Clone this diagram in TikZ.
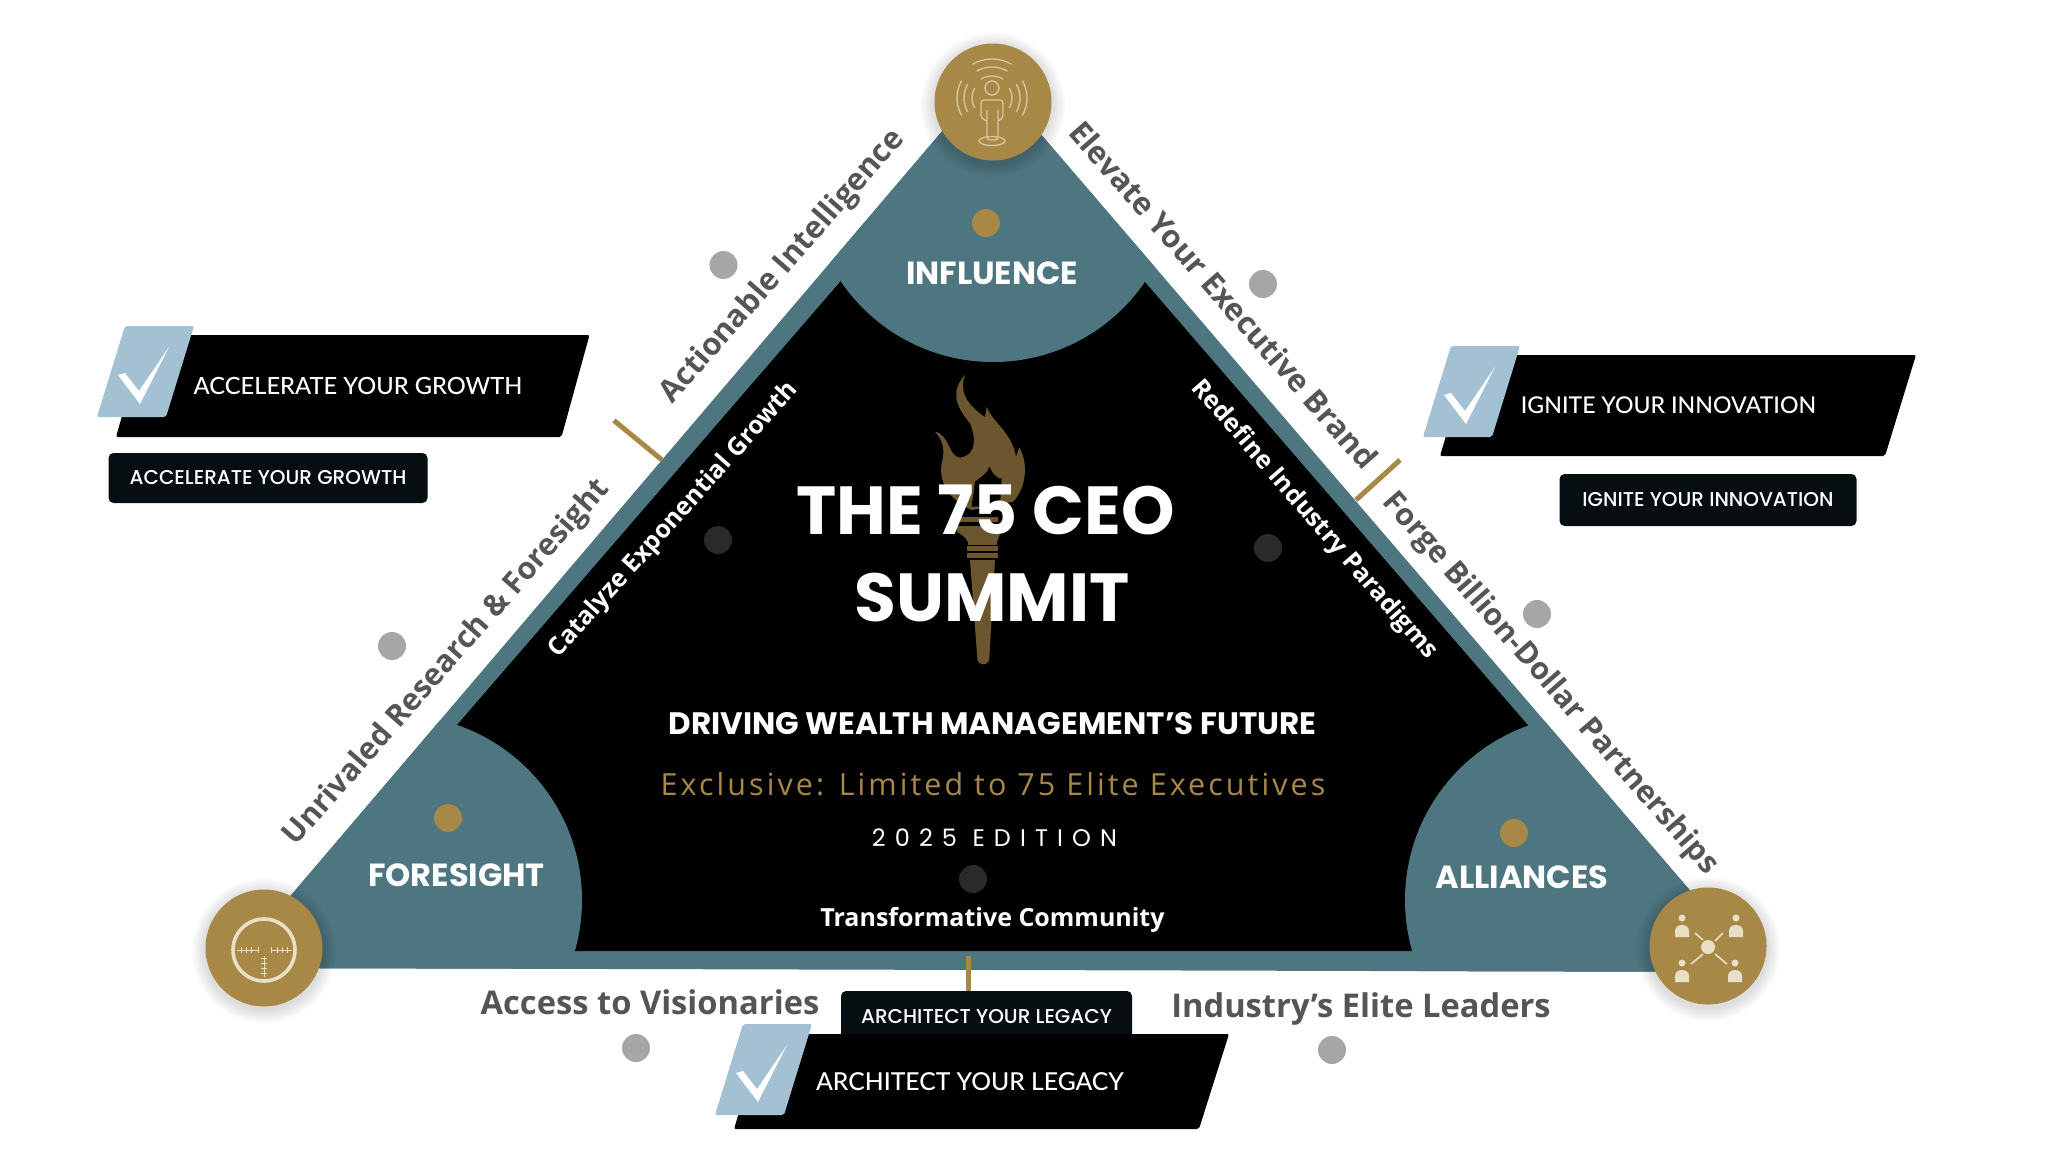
\documentclass[tikz,border=0pt]{standalone}
\usepackage{fontspec}
\setmainfont{Open Sans}
\newfontfamily\popfont{Poppins}
\newfontfamily\popmedium{Poppins Medium}
\newfontfamily\latofont{Lato Medium}
\newfontfamily\wideopen[LetterSpace=10]{Open Sans}
\newfontfamily\widepop[LetterSpace=38]{Poppins}
\usetikzlibrary{positioning}
\definecolor{tealfill}{HTML}{4E7680}
\definecolor{goldfill}{HTML}{A88847}
\definecolor{torchfill}{HTML}{6B5630}
\definecolor{paleblue}{HTML}{A3C1D2}
\definecolor{inkbox}{HTML}{070E11}
\definecolor{slatetext}{HTML}{555555}
\definecolor{graydot}{HTML}{A6A6A6}
\definecolor{darkdot}{HTML}{2A2A2A}
\definecolor{iconline}{HTML}{E9DFC6}
\definecolor{waveline}{HTML}{D9C79F}
\tikzset{
  spot/.style={circle, inner sep=0pt, minimum size=28pt},
  golddot/.style={spot, fill=goldfill},
  greydot/.style={spot, fill=graydot},
  blackdot/.style={spot, fill=darkdot},
  medallion/.style={circle, inner sep=0pt, minimum size=117pt, fill=goldfill},
  cornerlabel/.style={text=white, font=\popfont\bfseries\fontsize{32}{32}\selectfont},
  sidelabel/.style={text=slatetext, font=\bfseries\fontsize{#1}{#1}\selectfont},
  innerlabel/.style={text=white, font=\bfseries\fontsize{25}{25}\selectfont},
  titlelabel/.style={text=white, font=\popfont\bfseries\fontsize{68}{68}\selectfont},
  barlabel/.style={text=white, font=\latofont\fontsize{#1}{#1}\selectfont},
  tagbox/.style={fill=inkbox, rounded corners=5pt, text=white, inner sep=0pt, font=\popmedium\fontsize{20}{20}\selectfont},
  blackbar/.style={fill=black, rounded corners=2pt},
  tickline/.style={draw=goldfill, line width=5pt},
  iconstroke/.style={draw=waveline, line width=1.3pt},
  checkbadge/.pic={
    \fill[paleblue, rounded corners=2pt] (0,0) -- (69,0) -- (41,91) -- (-28,91) -- cycle;
    \fill[white] (-7,49) -- (0,47) -- (14,65) -- (44,21) -- (15,78) -- cycle;
  },
  personicon/.pic={
    \fill[iconline] (0,-9) circle[radius=3.5pt];
    \fill[iconline] (-7,10) -- (-7,4) .. controls (-7,-4) and (7,-4) .. (7,4) -- (7,10) -- cycle;
  }
}
\begin{document}
\begin{tikzpicture}[x=1pt, y=-1pt]
\useasboundingbox (0,0) rectangle (2048,1159);
\coordinate (apex) at (990,75);
\coordinate (baseLeft) at (229,968);
\coordinate (baseRight) at (1760,972);
% triangle
\fill[tealfill] (apex) -- (baseRight) -- (baseLeft) -- cycle;
\fill[black] (992.5,105.6) -- (1723,951) -- (261.6,951) -- cycle;
\begin{scope}
\clip (apex) -- (baseRight) -- (baseLeft) -- cycle;
\fill[tealfill] (993,178) circle[radius=184pt];
\fill[tealfill] (397,900) circle[radius=185pt];
\fill[tealfill] (1590,900) circle[radius=185pt];
\end{scope}
% torch
\begin{scope}[shift={(900,360)}, x=0.3333pt, y=-0.3333pt]
\fill[torchfill] (195,45) .. controls (180,90) and (190,125) .. (255,172) -- (260,140)
  .. controls (275,185) and (335,215) .. (348,290) -- (358,262)
  .. controls (385,310) and (380,380) .. (340,425) -- (215,450)
  .. controls (150,420) and (115,370) .. (125,310) .. controls (130,285) and (140,255) .. (105,215)
  .. controls (150,225) and (145,290) .. (180,293) .. controls (235,285) and (225,225) .. (210,190)
  .. controls (160,130) and (155,90) .. (195,45) -- cycle;
\fill[black] (225,365) .. controls (245,350) and (262,340) .. (268,320) .. controls (280,345) and (295,360) .. (305,355) -- (300,440) -- (215,440) -- cycle;
\fill[torchfill] (180,470) rectangle (295,487);
\fill[torchfill] (170,497) rectangle (300,515);
\fill[torchfill] (170,515) .. controls (195,530) and (205,540) .. (205,555) -- (290,555) .. controls (290,540) and (300,530) .. (300,515) -- cycle;
\fill[torchfill] (202,558) rectangle (295,572);
\fill[torchfill] (202,578) rectangle (295,594);
\fill[torchfill] (210,600) -- (285,600) -- (268,895) arc[start angle=0, end angle=-180, radius=6pt] -- cycle;
\end{scope}
% texts in the middle
\node[titlelabel] (titleTop) at (985.5,510) {THE 75 CEO};
\node[titlelabel] (titleBottom) at (992,598) {SUMMIT};
\node[text=white, font=\popfont\bfseries\fontsize{31}{31}\selectfont] (tagline) at (992.5,724) {DRIVING WEALTH MANAGEMENT’S FUTURE};
\node[text=goldfill, font=\wideopen\fontsize{30.5}{30.5}\selectfont] (exclusive) at (993,784) {Exclusive: Limited to 75 Elite Executives};
\node[text=white, font=\widepop\fontsize{24}{24}\selectfont] (edition) at (994.5,838) {2025 EDITION};
\node[blackdot] (dotCommunity) at (973,879) {};
\node[text=white, font=\bfseries\fontsize{25}{25}\selectfont] (community) at (992.5,920) {Transformative Community};
\node[cornerlabel] (influence) at (992,273) {INFLUENCE};
\node[cornerlabel] (foresight) at (456.5,875) {FORESIGHT};
\node[cornerlabel] (alliances) at (1522,877) {ALLIANCES};
\node[golddot] (dotInfluence) at (986,223) {};
\node[golddot] (dotForesight) at (448,818) {};
\node[golddot] (dotAlliances) at (1514,833) {};
\node[blackdot] (dotCatalyze) at (718,540) {};
\node[blackdot] (dotRedefine) at (1268,548) {};
\node[innerlabel, rotate=48.2] (catalyze) at (674,520) {Catalyze Exponential Growth};
\node[innerlabel, rotate=-49] (redefine) at (1314,520) {Redefine Industry Paradigms};
% side texts
\node[sidelabel=30.8, rotate=48.7] (actionable) at (783,267) {Actionable Intelligence};
\node[sidelabel=30.5, rotate=48.7] (unrivaled) at (447,663) {Unrivaled Research \& Foresight};
\node[sidelabel=31, rotate=-48.8] (elevate) at (1224,295) {Elevate Your Executive Brand};
\node[sidelabel=30.5, rotate=-49] (forge) at (1550,684) {Forge Billion-Dollar Partnerships};
\node[sidelabel=32.7] (access) at (650,1002) {Access to Visionaries};
\node[sidelabel=32.7] (industry) at (1361,1009) {Industry’s Elite Leaders};
\node[greydot] (dotActionable) at (723.5,265) {};
\node[greydot] (dotElevate) at (1263,284) {};
\node[greydot] (dotForge) at (1537,614) {};
\node[greydot] (dotUnrivaled) at (392,646) {};
\node[greydot] (dotAccess) at (636,1048) {};
\node[greydot] (dotIndustry) at (1332,1050) {};
% ticks
\coordinate (tickLeftA) at (614,420.5);
\coordinate (tickLeftB) at (662,460);
\coordinate (tickRightA) at (1400,460);
\coordinate (tickRightB) at (1356,500);
\coordinate (tickBottom) at (968,956);
\draw[tickline] (tickLeftA) -- (tickLeftB);
\draw[tickline] (tickRightA) -- (tickRightB);
% accelerate
\fill[blackbar] (145,335) -- (589.5,335) -- (561.5,437) -- (116,437) -- cycle;
\pic at (125,326) {checkbadge};
\node[barlabel=23.7] (accelerateBar) at (358,385.5) {ACCELERATE YOUR GROWTH};
\node[tagbox, minimum width=319pt, minimum height=50pt] (accelerateTag) at (268,478) {ACCELERATE YOUR GROWTH};
% ignite
\fill[blackbar] (1470,355) -- (1916,355) -- (1885,456) -- (1440,456) -- cycle;
\pic at (1451,346) {checkbadge};
\node[barlabel=23.1] (igniteBar) at (1668.5,405) {IGNITE YOUR INNOVATION};
\node[tagbox, minimum width=297pt, minimum height=52pt] (igniteTag) at (1708,500) {IGNITE YOUR INNOVATION};
% architect
\node[tagbox, minimum width=291pt, minimum height=52pt] (architectTag) at (986.5,1017) {ARCHITECT YOUR LEGACY};
\draw[tickline] (tickBottom) -- (tickBottom |- architectTag.north);
\fill[blackbar] (763,1034) -- (1229,1034) -- (1199,1129) -- (734,1129) -- cycle;
\pic at (743,1024) {checkbadge};
\node[barlabel=24.7] (architectBar) at (970,1081.5) {ARCHITECT YOUR LEGACY};
% medallions
\foreach \cx/\cy in {993/102, 264/948, 1708/946} {
  \foreach \rr in {60,62,...,72} {
    \fill[black, opacity=0.02] (\cx,\cy+3) circle[radius=\rr pt];
  }
}
\node[medallion] (medalInfluence) at (993,102) {};
\node[medallion] (medalForesight) at (264,948) {};
\node[medallion] (medalAlliances) at (1708,946) {};
% person with waves
\draw[iconstroke] (992,88) circle[radius=7pt];
\draw[iconstroke, rounded corners=3pt] (987,110) -- (987,140) -- (998,140) -- (998,110);
\draw[iconstroke, rounded corners=3pt] (987,121) -- (981,118) -- (981,100) -- (1003,100) -- (1003,118) -- (998,121);
\draw[iconstroke] (992,141) ellipse[x radius=13pt, y radius=4.5pt];
\foreach \rr in {22,31,39} {
  \draw[iconstroke] ([shift={(60:\rr pt)}]992,98) arc[start angle=60, end angle=120, radius=\rr pt];
}
\foreach \rr in {20,28,35} {
  \draw[iconstroke] ([shift={(150:\rr pt)}]992,98) arc[start angle=150, end angle=210, radius=\rr pt];
  \draw[iconstroke] ([shift={(-30:\rr pt)}]992,98) arc[start angle=-30, end angle=30, radius=\rr pt];
}
% scope icon
\draw[iconline, line width=3.6pt] (264,950) circle[radius=31pt];
\draw[iconline, line width=1pt] (237,950) -- (258,950);
\draw[iconline, line width=1pt] (271,950) -- (292,950);
\draw[iconline, line width=1pt] (264,956) -- (264,977);
\foreach \tk in {241,246,251,258,271,277,282,287} {
  \draw[iconline, line width=1pt] (\tk,947) -- (\tk,953);
}
\foreach \tk in {958,963,968,973} {
  \draw[iconline, line width=1pt] (261,\tk) -- (267,\tk);
}
% network icon
\fill[iconline] (1708,947) circle[radius=7pt];
\pic at (1682,927) {personicon};
\pic at (1736,927) {personicon};
\pic at (1682,972) {personicon};
\pic at (1735,972) {personicon};
\draw[iconline, line width=1.6pt] (1695,933) -- (1703,940);
\draw[iconline, line width=1.6pt] (1723,933) -- (1715,941);
\draw[iconline, line width=1.6pt] (1703,954) -- (1691,964);
\draw[iconline, line width=1.6pt] (1715,954) -- (1727,964);
\end{tikzpicture}
\end{document}
